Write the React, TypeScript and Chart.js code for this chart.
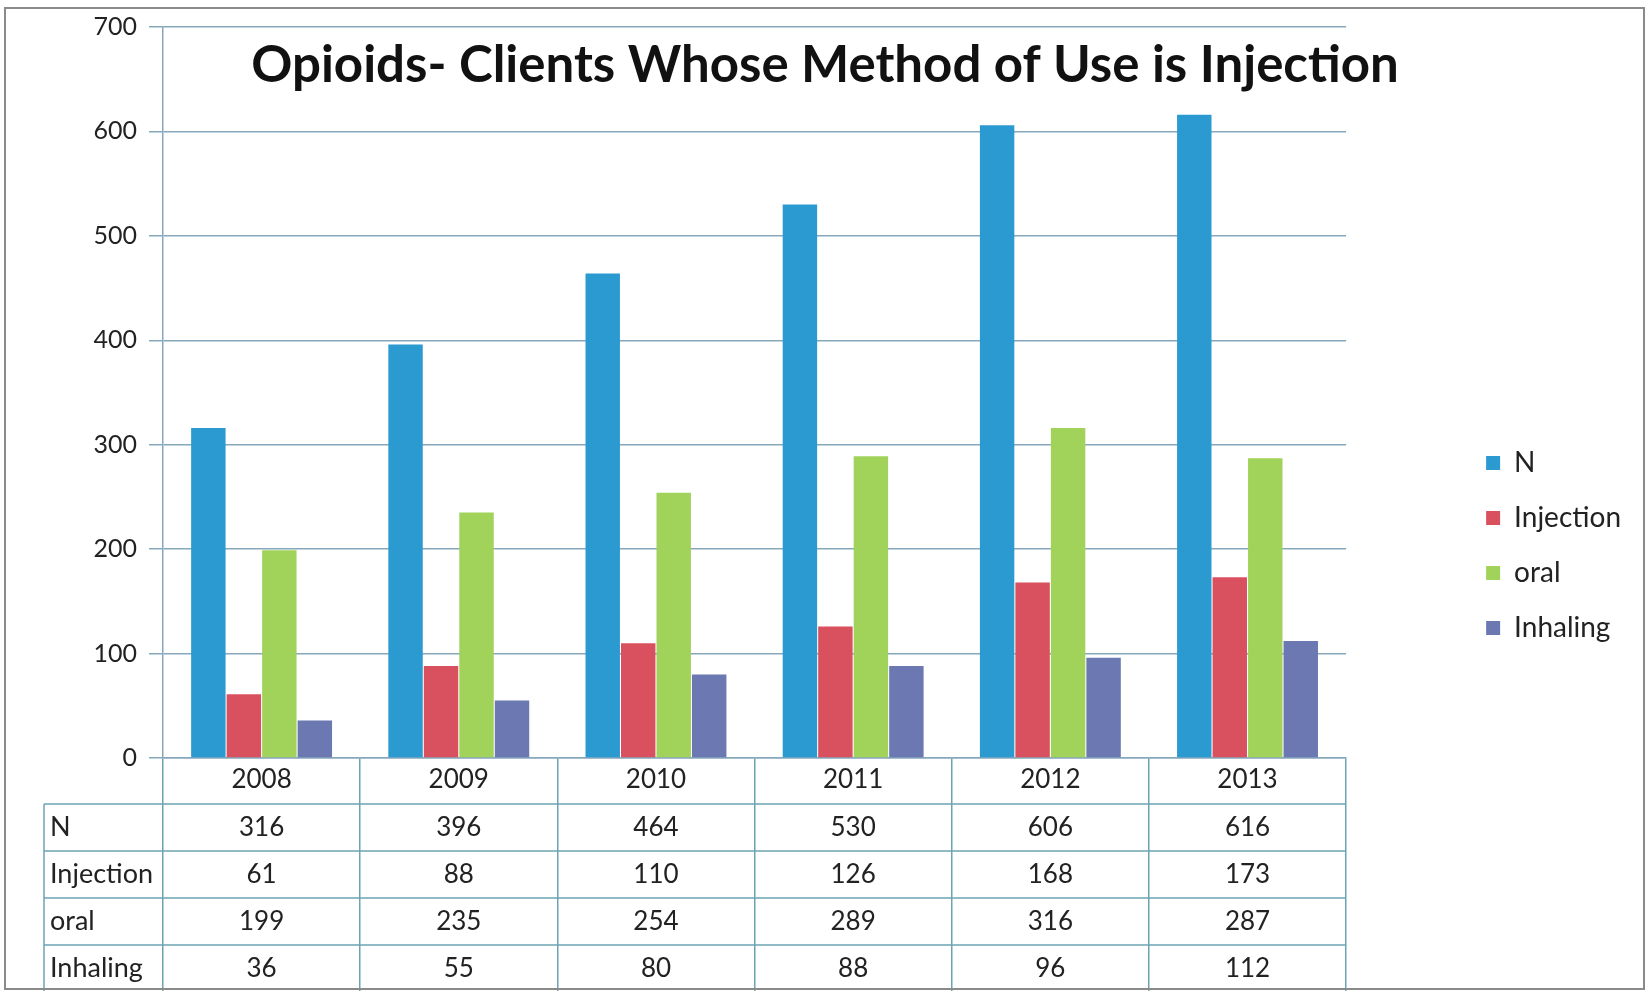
import React, { useEffect, useRef } from 'react';
import { Chart, registerables } from 'chart.js';

Chart.register(...registerables);

const TITLE = 'Opioids- Clients Whose Method of Use is Injection';
const years = ['2008', '2009', '2010', '2011', '2012', '2013'];
const seriesNames = ['N', 'Injection', 'oral', 'Inhaling'];
const nValues = [316, 396, 464, 530, 606, 616];
const injectionValues = [61, 88, 110, 126, 168, 173];
const oralValues = [199, 235, 254, 289, 316, 287];
const inhalingValues = [36, 55, 80, 88, 96, 112];
const yMin = 0;
const yMax = 700;
const yStep = 100;

const seriesColors = ['#2a9ad1', '#d9515e', '#a1d25a', '#6b78b2'];

const FONT = "Lato, 'Open Sans', sans-serif";
const GRID = '#86a8bd';
const TABLE_LINE = '#6aa3b3';
const TEXT = '#222222';

const HEADER_H = 46;
const ROW_H = 47;
const TABLE_LEFT = 44;

const frameAndTable = {
  id: 'frameAndTable',
  beforeDraw(chart: any) {
    const { ctx, width, height } = chart;
    ctx.save();
    ctx.fillStyle = '#ffffff';
    ctx.fillRect(0, 0, width, height);
    ctx.restore();
  },
  afterDraw(chart: any) {
    const { ctx, chartArea, scales } = chart;
    const x = scales.x;
    const rowsTop = chartArea.bottom + HEADER_H;
    const datasets = chart.data.datasets;
    ctx.save();
    ctx.strokeStyle = TABLE_LINE;
    ctx.lineWidth = 1.5;
    for (let r = 0; r <= datasets.length; r++) {
      const y = rowsTop + r * ROW_H;
      ctx.beginPath();
      ctx.moveTo(TABLE_LEFT, y);
      ctx.lineTo(chartArea.right, y);
      ctx.stroke();
    }
    ctx.beginPath();
    ctx.moveTo(TABLE_LEFT, rowsTop);
    ctx.lineTo(TABLE_LEFT, chart.height);
    ctx.stroke();

    ctx.fillStyle = TEXT;
    ctx.textBaseline = 'middle';
    datasets.forEach((ds: any, r: number) => {
      const cy = rowsTop + r * ROW_H + ROW_H / 2;
      ctx.font = `27px ${FONT}`;
      ctx.textAlign = 'left';
      ctx.fillText(ds.label, 50, cy);
      ctx.font = `26px ${FONT}`;
      ctx.textAlign = 'center';
      ds.data.forEach((v: number, i: number) => {
        ctx.fillText(String(v), x.getPixelForValue(i), cy);
      });
    });

    ctx.strokeStyle = '#8a8a8a';
    ctx.lineWidth = 2;
    ctx.strokeRect(5, 8, 1639, 981);
    ctx.restore();
  },
};

export default function App() {
  const ref = useRef<HTMLCanvasElement>(null);
  useEffect(() => {
    if (!ref.current) return;
    const valueLists = [nValues, injectionValues, oralValues, inhalingValues];
    const chart = new Chart(ref.current, {
      type: 'bar',
      data: {
        labels: years,
        datasets: seriesNames.map((name, i) => ({
          label: name,
          data: valueLists[i],
          backgroundColor: seriesColors[i],
          borderWidth: 0,
          barPercentage: 0.97,
          categoryPercentage: 0.72,
        })),
      },
      options: {
        responsive: false,
        animation: false,
        devicePixelRatio: 1,
        layout: { padding: { left: 19, right: 19, top: 0, bottom: 0 } },
        plugins: {
          title: {
            display: true,
            text: TITLE,
            color: '#111111',
            font: { family: FONT, size: 51, weight: 'bold', lineHeight: 1.2 },
            padding: { top: 32.4, bottom: -69.6 },
          },
          legend: {
            position: 'right',
            align: 'center',
            title: {
              display: true,
              text: ' ',
              font: { size: 10, lineHeight: 1.2 },
              padding: { top: 88, bottom: 0 },
            },
            labels: {
              boxWidth: 14,
              boxHeight: 14,
              padding: 27,
              color: TEXT,
              font: { family: FONT, size: 28 },
            },
          },
          tooltip: { enabled: false },
        },
        scales: {
          x: {
            grid: {
              display: true,
              drawOnChartArea: false,
              offset: true,
              tickLength: 233,
              color: TABLE_LINE,
              lineWidth: 1.5,
            },
            border: { display: true, color: GRID, width: 1.5 },
            ticks: { padding: -227, color: TEXT, font: { family: FONT, size: 26 } },
            afterFit: (s: any) => {
              s.height = 233;
            },
          },
          y: {
            min: yMin,
            max: yMax,
            ticks: { stepSize: yStep, padding: 12, color: TEXT, font: { family: FONT, size: 25 } },
            grid: { color: GRID, tickLength: 14, lineWidth: 1.5 },
            border: { color: GRID, width: 1.5 },
            afterFit: (s: any) => {
              s.width = 144;
            },
          },
          y2: {
            type: 'linear',
            position: 'right',
            display: true,
            grid: { display: false },
            ticks: { display: false },
            border: { display: false },
            afterFit: (s: any) => {
              s.width = 113;
            },
          },
        },
      },
      plugins: [frameAndTable],
    } as any);
    return () => chart.destroy();
  }, []);
  return (
    <div style={{ position: 'absolute', left: 0, top: 0, width: 1650, height: 991 }}>
      <canvas ref={ref} width={1650} height={991} style={{ display: 'block' }} />
    </div>
  );
}
